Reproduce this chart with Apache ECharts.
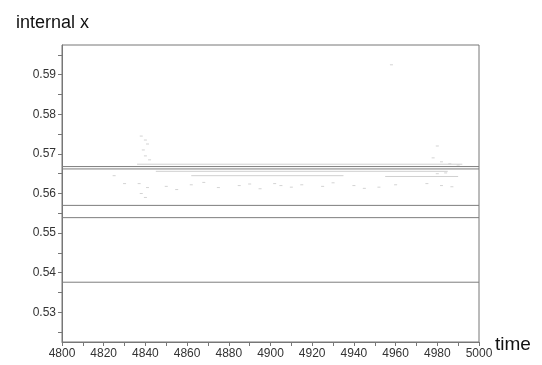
<!DOCTYPE html>
<html><head><meta charset="utf-8">
<script src="https://cdn.jsdelivr.net/npm/echarts@6/dist/echarts.min.js"></script>
<style>html,body{margin:0;padding:0;background:#fff}#c{width:542px;height:365px}</style>
</head><body><div id="c"></div>
<script>
// x range and tick labels
const xTicks = [4800, 4820, 4840, 4860, 4880, 4900, 4920, 4940, 4960, 4980, 5000];
const yTicks = [0.53, 0.54, 0.55, 0.56, 0.57, 0.58, 0.59];
const yMinorTicks = [0.525, 0.53, 0.535, 0.54, 0.545, 0.55, 0.555, 0.56, 0.565, 0.57, 0.575, 0.58, 0.585, 0.59, 0.595];
// solid horizontal levels spanning the whole time range
const levelStart = 4800, levelEnd = 5000;
const levels = [0.5668, 0.5662, 0.5570, 0.5539, 0.5376];
// faint partial traces: [start, end, value]
const faintSegments = [
  [4836, 4992, 0.5674],
  [4845, 4985, 0.5656],
  [4862, 4935, 0.5645],
  [4955, 4990, 0.5643]
];
// scattered points (time, value)
const scatterTime = [4838,4840,4841,4839,4840,4842,4838,4840,4841,4837,4978,4982,4986,4990,4980,4984,4975,4982,4987,4830,4850,4862,4875,4885,4895,4905,4915,4925,4940,4952,4902,4958,4825,4868,4890,4910,4930,4945,4960,4855,4980];
const scatterValue = [0.5745,0.5735,0.5725,0.5710,0.5695,0.5685,0.5600,0.5590,0.5615,0.5625,0.5690,0.5680,0.5675,0.5672,0.5650,0.5652,0.5625,0.5620,0.5617,0.5625,0.5618,0.5622,0.5615,0.5620,0.5612,0.5620,0.5622,0.5618,0.5620,0.5616,0.5625,0.5925,0.5645,0.5628,0.5624,0.5616,0.5627,0.5613,0.5622,0.5610,0.5720];

const series = [];
levels.forEach(v => series.push({
  type: 'line', data: [[levelStart, v], [levelEnd, v]], symbol: 'none', silent: true,
  lineStyle: {color: '#7d7d7d', width: 1}
}));
faintSegments.forEach(s => series.push({
  type: 'line', data: [[s[0], s[2]], [s[1], s[2]]], symbol: 'none', silent: true,
  lineStyle: {color: '#d0d0d0', width: 1}
}));
series.push({
  type: 'scatter', data: scatterTime.map((t, i) => [t, scatterValue[i]]),
  symbol: 'rect', symbolSize: [3, 1], itemStyle: {color: '#c8c8c8'}, silent: true
});

const chart = echarts.init(document.getElementById('c'));
chart.setOption({
  animation: false,
  backgroundColor: '#fff',
  textStyle: {fontFamily: 'Liberation Sans'},
  title: [
    {text: 'internal x', left: 11, top: 9, textStyle: {fontSize: 18, fontWeight: 'normal', color: '#111', fontFamily: 'Liberation Sans'}},
    {text: 'time', left: 490, top: 330, textStyle: {fontSize: 19, fontWeight: 'normal', color: '#111', fontFamily: 'Liberation Sans'}}
  ],
  grid: {left: 62, right: 63, top: 45, bottom: 23, show: true, borderColor: '#777', borderWidth: 1},
  xAxis: {
    type: 'value', min: 4800, max: 5000, interval: 20,
    axisLine: {show: true, lineStyle: {color: '#777'}},
    axisTick: {show: true, length: 4, lineStyle: {color: '#777'}},
    minorTick: {show: true, splitNumber: 2, length: 4, lineStyle: {color: '#777'}},
    axisLabel: {color: '#333', fontSize: 12, margin: 6, customValues: xTicks, formatter: v => String(v)},
    splitLine: {show: false}
  },
  yAxis: {
    type: 'value', min: 0.5225, max: 0.5975,
    axisLine: {show: true, lineStyle: {color: '#777'}},
    axisTick: {show: true, length: 4, lineStyle: {color: '#777'}, customValues: yMinorTicks},
    axisLabel: {color: '#333', fontSize: 12, margin: 6, customValues: yTicks, formatter: v => v.toFixed(2)},
    splitLine: {show: false}
  },
  series: series
});
</script></body></html>
